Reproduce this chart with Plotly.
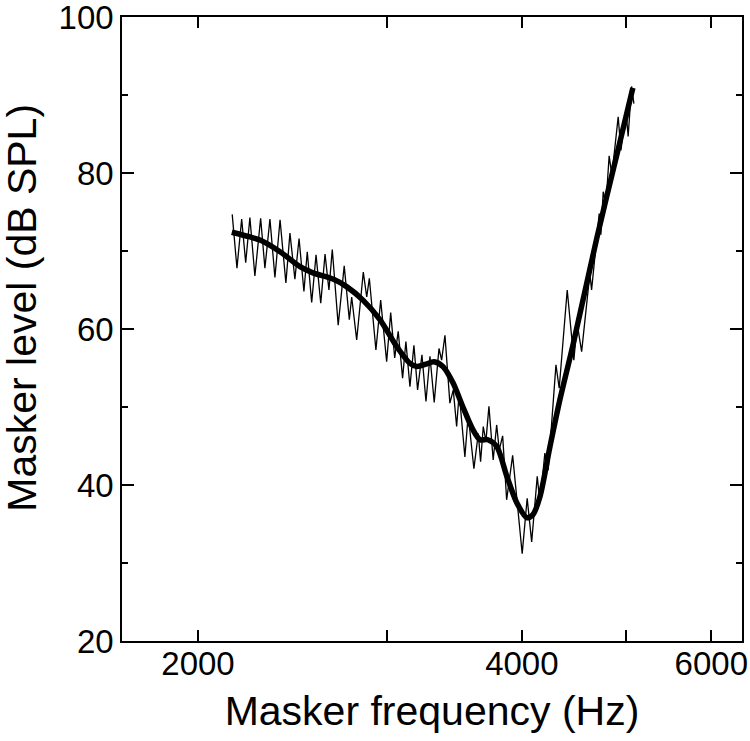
import plotly.graph_objects as go

# Thin line: tracked masker level (reversal points)
thin_freq = [2152, 2174, 2196, 2215, 2235, 2259, 2287, 2308, 2333, 2358, 2384, 2414, 2435, 2461,
             2483, 2509, 2527, 2551, 2575, 2601, 2625, 2647, 2666, 2700, 2735, 2765, 2779, 2809,
             2849, 2870, 2886, 2927, 2957, 2995, 3021, 3047, 3070, 3099, 3121, 3148, 3175, 3200,
             3230, 3258, 3286, 3316, 3350, 3369, 3393, 3429, 3454, 3479, 3498, 3541, 3566, 3610,
             3644, 3662, 3683, 3704, 3728, 3762, 3790, 3811, 3839, 3872, 3922, 4003, 4046, 4085,
             4134, 4158, 4202, 4232, 4303, 4333, 4408, 4471, 4503, 4546, 4627, 4644, 4720, 4737,
             4761, 4788, 4822, 4850, 4916, 4945, 4998, 5022, 5059, 5084]
thin_db = [74.7, 67.8, 74.1, 68.5, 74.3, 66.8, 74.2, 67.8, 74.1, 66.6, 74.0, 65.9, 72.3, 66.4,
           71.6, 64.8, 69.9, 63.4, 69.5, 63.3, 69.6, 65.0, 70.2, 60.5, 68.1, 61.2, 64.1, 58.6,
           67.3, 64.1, 66.5, 57.3, 63.7, 55.8, 62.1, 56.3, 59.7, 53.7, 58.4, 52.6, 57.9, 52.2,
           56.7, 50.7, 56.5, 50.6, 57.5, 56.0, 59.2, 50.5, 52.2, 47.5, 51.8, 43.6, 49.0, 42.1,
           46.6, 43.0, 47.5, 45.6, 50.1, 43.2, 47.7, 44.5, 46.3, 38.1, 43.8, 31.2, 38.3, 32.7,
           41.1, 37.7, 44.1, 41.9, 55.4, 52.4, 65.0, 56.0, 60.7, 57.1, 67.1, 65.0, 74.8, 72.1,
           77.6, 75.9, 82.2, 79.7, 87.2, 82.9, 88.1, 84.7, 91.1, 88.9]

# Thick line: smoothed tuning curve
fit_freq = [2150, 2235, 2284, 2384, 2488, 2558, 2670, 2751, 2847, 2952, 3062, 3148, 3196, 3258,
            3314, 3378, 3452, 3526, 3602, 3657, 3720, 3792, 3874, 3958, 4044, 4096, 4158, 4248,
            4339, 4462, 4697, 4913, 5073]
fit_db = [72.4, 71.8, 71.4, 69.9, 68.0, 67.2, 66.4, 65.4, 63.7, 61.2, 57.7, 55.6, 55.2, 55.5,
          55.8, 55.2, 53.1, 50.0, 47.1, 45.8, 45.8, 44.9, 41.1, 37.7, 35.8, 36.2, 38.5, 44.9,
          50.9, 57.9, 71.7, 82.9, 90.9]

x_tickvals = [2000, 3000, 4000, 5000, 6000]
x_ticktext = ["2000", "", "4000", "", "6000"]
y_tickvals = [20, 40, 60, 80, 100]
y_minor_tickvals = [30, 50, 70, 90]

FONT = "Liberation Sans, Arial, sans-serif"

fig = go.Figure()
fig.add_trace(go.Scatter(x=thin_freq, y=thin_db, mode="lines",
                         line=dict(color="black", width=1.3), showlegend=False))
fig.add_trace(go.Scatter(x=fit_freq, y=fit_db, mode="lines",
                         line=dict(color="black", width=5.5, shape="spline", smoothing=0.8),
                         showlegend=False))

fig.update_layout(
    width=750, height=741,
    margin=dict(l=122, r=8, t=17, b=100),
    paper_bgcolor="white", plot_bgcolor="white",
    font=dict(family=FONT, color="black"),
    xaxis=dict(
        type="log", range=[3.2304, 3.8067], automargin=False,
        showline=True, linecolor="black", linewidth=1.5, mirror="ticks",
        ticks="inside", ticklen=11, tickwidth=1.5, tickcolor="black",
        tickmode="array", tickvals=x_tickvals, ticktext=x_ticktext,
        tickfont=dict(size=33, family=FONT, color="black"),
        ticklabeloverflow="allow", ticklabelstandoff=-7,
        showgrid=False, zeroline=False,
        title=dict(text="Masker frequency (Hz)", font=dict(size=41, family=FONT, color="black"),
                   standoff=15),
    ),
    yaxis=dict(
        range=[20, 100], automargin=False,
        showline=True, linecolor="black", linewidth=1.5, mirror="ticks",
        ticks="inside", ticklen=12, tickwidth=1.5, tickcolor="black",
        tickmode="array", tickvals=y_tickvals,
        minor=dict(tickmode="array", tickvals=y_minor_tickvals, ticks="inside",
                   ticklen=6, tickwidth=1.5, tickcolor="black", showgrid=False),
        tickfont=dict(size=33, family=FONT, color="black"),
        ticklabeloverflow="allow",
        showgrid=False, zeroline=False,
    ),
    annotations=[dict(
        text="Masker level (dB SPL)", textangle=-90,
        xref="paper", yref="paper", x=-0.1613, y=0.534,
        xanchor="center", yanchor="middle", showarrow=False,
        font=dict(size=41, family=FONT, color="black"),
    )],
)

fig.write_html("out.html", config={"displayModeBar": False},
               post_script="document.body.style.margin='0';")
